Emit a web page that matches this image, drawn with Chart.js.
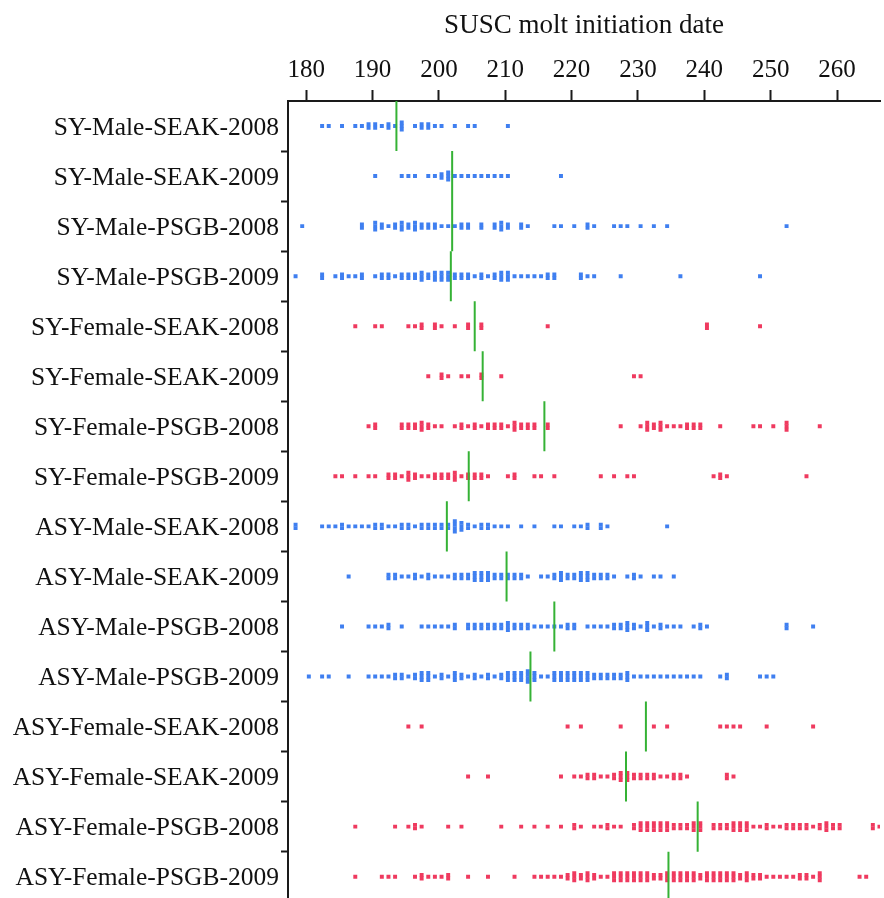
<!DOCTYPE html>
<html>
<head>
<meta charset="utf-8">
<title>SUSC molt initiation date</title>
<script src="https://cdn.jsdelivr.net/npm/chart.js"></script>
<style>
  html, body { margin: 0; padding: 0; background: #fff; overflow: hidden; }
  #moltChart { display: block; }
</style>
</head>
<body>
<!-- canvas is a bit taller than the window: the plot runs off the bottom edge like the original -->
<canvas id="moltChart" width="884" height="916"></canvas>
<script>
// Groups, top to bottom
const groupLabels = [
  'SY-Male-SEAK-2008', 'SY-Male-SEAK-2009', 'SY-Male-PSGB-2008', 'SY-Male-PSGB-2009',
  'SY-Female-SEAK-2008', 'SY-Female-SEAK-2009', 'SY-Female-PSGB-2008', 'SY-Female-PSGB-2009',
  'ASY-Male-SEAK-2008', 'ASY-Male-SEAK-2009', 'ASY-Male-PSGB-2008', 'ASY-Male-PSGB-2009',
  'ASY-Female-SEAK-2008', 'ASY-Female-SEAK-2009', 'ASY-Female-PSGB-2008', 'ASY-Female-PSGB-2009'
];

// Median initiation day of each group (green marks)
const medianDays = [193.2, 201.6, 201.6, 201.4, 205.0, 206.2, 215.5, 204.1,
                    200.8, 209.8, 217.0, 213.4, 230.8, 227.8, 238.6, 234.2];

const dayTicks = [180, 190, 200, 210, 220, 230, 240, 250, 260];

// [day, number of birds] per group
const syMaleSeak2008 = [[182,1],[183,1],[185,1],[187,1],[188,1],[189,2],[190,2],[191,1],[192,2],[193,1],[194,3],
  [196,1],[197,2],[198,2],[199,1],[200,1],[202,1],[204,1],[205,1],[210,1]];
const syMaleSeak2009 = [[190,1],[194,1],[195,1],[196,1],[198,1],[199,1],[200,2],[201,3],[202,1],[203,1],[204,1],
  [205,1],[206,1],[207,1],[208,1],[209,1],[210,1],[218,1]];
const syMalePsgb2008 = [[179,1],[188,2],[190,3],[191,2],[192,1],[193,2],[194,3],[195,2],[196,3],[197,2],[198,2],
  [199,2],[200,1],[201,1],[202,1],[203,2],[204,2],[206,2],[208,2],[209,3],[210,2],[212,2],[213,1],[217,1],[218,1],
  [220,1],[222,2],[223,1],[226,1],[227,1],[228,1],[230,1],[232,1],[234,1],[252,1]];
const syMalePsgb2009 = [[178,1],[182,2],[184,1],[185,2],[186,1],[187,1],[188,2],[190,1],[191,2],[192,2],[193,1],
  [194,2],[195,2],[196,2],[197,3],[198,2],[199,3],[200,3],[201,3],[202,2],[203,2],[204,2],[205,1],[206,2],[207,1],
  [208,2],[209,3],[210,3],[211,1],[212,1],[213,1],[214,1],[215,1],[216,2],[217,2],[221,2],[222,1],[223,1],[227,1],
  [236,1],[248,1]];
const syFemaleSeak2008 = [[187,1],[190,1],[191,1],[195,1],[196,1],[197,2],[199,2],[200,1],[202,1],[204,2],[206,2],
  [216,1],[240,2],[248,1]];
const syFemaleSeak2009 = [[198,1],[200,2],[201,1],[203,1],[204,1],[206,2],[209,1],[229,1],[230,1]];
const syFemalePsgb2008 = [[189,1],[190,2],[194,2],[195,2],[196,2],[197,3],[198,2],[199,1],[200,1],[202,1],[203,2],
  [204,1],[205,2],[206,1],[207,2],[208,2],[209,2],[210,1],[211,3],[212,2],[213,2],[214,2],[216,2],[227,1],[230,1],
  [231,3],[232,2],[233,3],[234,1],[235,1],[236,1],[237,2],[238,2],[239,2],[242,1],[247,1],[248,1],[250,1],[252,3],
  [257,1]];
const syFemalePsgb2009 = [[184,1],[185,1],[187,1],[189,1],[190,1],[192,2],[193,2],[194,1],[195,3],[196,2],[197,1],
  [198,1],[199,2],[200,2],[201,2],[202,3],[203,1],[204,2],[205,2],[206,2],[207,1],[210,1],[211,2],[214,1],[215,1],
  [217,1],[224,1],[226,1],[228,1],[229,1],[241,1],[242,2],[243,1],[255,1]];
const asyMaleSeak2008 = [[178,2],[182,1],[183,1],[184,1],[185,2],[186,1],[187,1],[188,1],[189,1],[190,2],[191,2],
  [192,1],[193,1],[194,2],[195,2],[196,1],[197,2],[198,2],[199,2],[200,2],[201,2],[202,4],[203,3],[204,2],[205,1],
  [206,2],[207,2],[208,1],[209,1],[210,1],[212,1],[214,1],[217,1],[218,1],[220,1],[221,1],[222,2],[224,2],[225,1],
  [234,1]];
const asyMaleSeak2009 = [[186,1],[192,2],[193,2],[194,1],[195,1],[196,2],[197,1],[198,2],[199,1],[200,1],[201,1],
  [202,2],[203,2],[204,2],[205,3],[206,3],[207,3],[208,2],[209,2],[210,2],[211,2],[212,2],[213,1],[215,1],[216,1],
  [217,2],[218,3],[219,2],[220,2],[221,3],[222,3],[223,2],[224,2],[225,2],[226,1],[228,1],[229,2],[230,1],[232,1],
  [233,1],[235,1]];
const asyMalePsgb2008 = [[185,1],[189,1],[190,1],[191,1],[192,2],[194,1],[197,1],[198,1],[199,1],[200,1],[201,1],
  [202,2],[204,2],[205,2],[206,2],[207,2],[208,2],[209,2],[210,3],[211,2],[212,2],[213,2],[214,1],[215,1],[216,1],
  [217,1],[218,1],[219,2],[220,2],[222,1],[223,1],[224,1],[225,1],[226,2],[227,2],[228,3],[229,2],[230,1],[231,3],
  [232,1],[233,2],[234,1],[235,1],[236,1],[238,1],[239,2],[240,1],[252,2],[256,1]];
const asyMalePsgb2009 = [[180,1],[182,1],[183,1],[186,1],[189,1],[190,1],[191,1],[192,1],[193,2],[194,2],[195,1],
  [196,2],[197,3],[198,3],[199,1],[200,2],[201,1],[202,3],[203,2],[204,1],[205,2],[206,1],[207,2],[208,1],[209,2],
  [210,3],[211,3],[212,3],[213,4],[214,3],[215,1],[216,1],[217,3],[218,3],[219,3],[220,3],[221,3],[222,3],[223,2],
  [224,2],[225,2],[226,2],[227,2],[228,3],[229,1],[230,1],[231,1],[232,1],[233,1],[234,1],[235,1],[236,1],[237,1],
  [238,1],[239,1],[242,1],[243,2],[248,1],[249,1],[250,1]];
const asyFemaleSeak2008 = [[195,1],[197,1],[219,1],[221,1],[227,1],[232,1],[234,1],[242,1],[243,1],[244,1],[245,1],
  [249,1],[256,1]];
const asyFemaleSeak2009 = [[204,1],[207,1],[218,1],[220,1],[221,1],[222,2],[223,2],[224,1],[225,1],[226,2],[227,3],
  [228,3],[229,2],[230,2],[231,2],[232,2],[233,1],[234,1],[235,2],[236,2],[237,1],[243,2],[244,1]];
const asyFemalePsgb2008 = [[187,1],[193,1],[195,1],[196,2],[197,1],[201,1],[203,1],[209,1],[212,1],[214,1],[216,1],
  [218,1],[220,2],[221,1],[223,1],[224,1],[225,2],[226,1],[227,1],[229,2],[230,3],[231,3],[232,3],[233,3],[234,3],
  [235,2],[236,2],[237,2],[238,3],[239,3],[241,2],[242,2],[243,2],[244,3],[245,3],[246,3],[247,1],[248,1],[249,2],
  [250,1],[251,1],[252,2],[253,2],[254,2],[255,2],[256,1],[257,2],[258,3],[259,2],[260,2],[265,2],[266,1]];
const asyFemalePsgb2009 = [[187,1],[191,1],[192,1],[193,1],[196,1],[197,2],[198,1],[199,1],[200,1],[201,2],[204,1],
  [207,1],[211,1],[214,1],[215,1],[216,1],[217,1],[218,1],[219,2],[220,3],[221,2],[222,3],[223,2],[224,1],[225,1],
  [226,3],[227,3],[228,3],[229,3],[230,3],[231,3],[232,2],[233,2],[234,3],[235,3],[236,3],[237,3],[238,3],[239,2],
  [240,3],[241,3],[242,3],[243,3],[244,3],[245,2],[246,3],[247,2],[248,2],[249,1],[250,1],[251,1],[252,1],[253,1],
  [254,2],[255,2],[256,1],[257,3],[263,1],[264,1]];

const groupCounts = [
  syMaleSeak2008, syMaleSeak2009, syMalePsgb2008, syMalePsgb2009,
  syFemaleSeak2008, syFemaleSeak2009, syFemalePsgb2008, syFemalePsgb2009,
  asyMaleSeak2008, asyMaleSeak2009, asyMalePsgb2008, asyMalePsgb2009,
  asyFemaleSeak2008, asyFemaleSeak2009, asyFemalePsgb2008, asyFemalePsgb2009
];

// Style settings
const MALE_COLOR = '#3f7ff0';
const FEMALE_COLOR = '#ef3a5f';
const MEDIAN_COLOR = '#35b235';
const AXIS_COLOR = '#1a1a1a';
const DAY_SHIFT = 0.4;     // dots sit a little right of the day tick
const STACK_STEP = 0.07;   // vertical spacing of stacked dots (row units)
const SERIF = "'Liberation Serif', 'Times New Roman', serif";

function buildDatasets() {
  const sets = [];
  groupCounts.forEach(function (rows, g) {
    const pts = [];
    rows.forEach(function (r) {
      const n = r[1];
      for (let k = 0; k < n; k++) {
        pts.push({ x: r[0] + DAY_SHIFT, y: g + (k - (n - 1) / 2) * STACK_STEP });
      }
    });
    const female = groupLabels[g].indexOf('Female') !== -1;
    sets.push({
      type: 'scatter',
      label: groupLabels[g],
      data: pts,
      order: 1,
      pointStyle: 'rect',
      pointRadius: 2.8,
      pointBorderWidth: 0,
      backgroundColor: female ? FEMALE_COLOR : MALE_COLOR,
      borderColor: female ? FEMALE_COLOR : MALE_COLOR
    });

    // median mark across the group's band
    sets.push({
      type: 'line',
      label: groupLabels[g] + ' median',
      data: [
        { x: medianDays[g] + DAY_SHIFT, y: g - 0.5 },
        { x: medianDays[g] + DAY_SHIFT, y: g + 0.5 }
      ],
      order: 0,
      borderColor: MEDIAN_COLOR,
      borderWidth: 2,
      pointRadius: 0,
      fill: false
    });
  });
  return sets;
}

new Chart(document.getElementById('moltChart'), {
  type: 'scatter',
  data: { datasets: buildDatasets() },
  options: {
    responsive: false,
    animation: false,
    devicePixelRatio: 1,
    layout: { padding: 0 },
    plugins: {
      legend: { display: false },
      tooltip: { enabled: false }
    },
    scales: {
      x: {
        type: 'linear',
        position: 'top',
        min: 177.26,
        max: 266.48,
        afterBuildTicks: function (scale) {
          scale.ticks = dayTicks.map(function (v) { return { value: v }; });
        },
        afterFit: function (scale) { scale.height = 101; },
        grid: { drawOnChartArea: false, drawTicks: true, tickLength: 11, tickWidth: 2, tickColor: AXIS_COLOR },
        border: { display: true, color: AXIS_COLOR, width: 2 },
        ticks: {
          font: { family: SERIF, size: 25 },
          color: '#111',
          padding: 5,
          maxRotation: 0,
          autoSkip: false
        },
        title: {
          display: true,
          text: 'SUSC molt initiation date',
          font: { family: SERIF, size: 27 },
          color: '#111',
          padding: { top: 10, bottom: 0 }
        }
      },
      y: {
        type: 'linear',
        position: 'left',
        reverse: true,
        min: -0.5,
        max: 15.44,
        afterBuildTicks: function (scale) {
          scale.ticks = groupLabels.map(function (l, i) { return { value: i }; });
        },
        afterFit: function (scale) { scale.width = 288; },
        grid: {
          offset: true,
          drawOnChartArea: false,
          drawTicks: true,
          tickLength: 7,
          tickWidth: 2,
          tickColor: function (ctx) { return ctx.index === 0 ? 'rgba(0,0,0,0)' : AXIS_COLOR; }
        },
        border: { display: true, color: AXIS_COLOR, width: 2 },
        ticks: {
          font: { family: SERIF, size: 25.5 },
          color: '#111',
          padding: 2,
          labelOffset: 2,
          autoSkip: false,
          callback: function (value) { return groupLabels[value]; }
        }
      }
    }
  }
});
</script>
</body>
</html>
